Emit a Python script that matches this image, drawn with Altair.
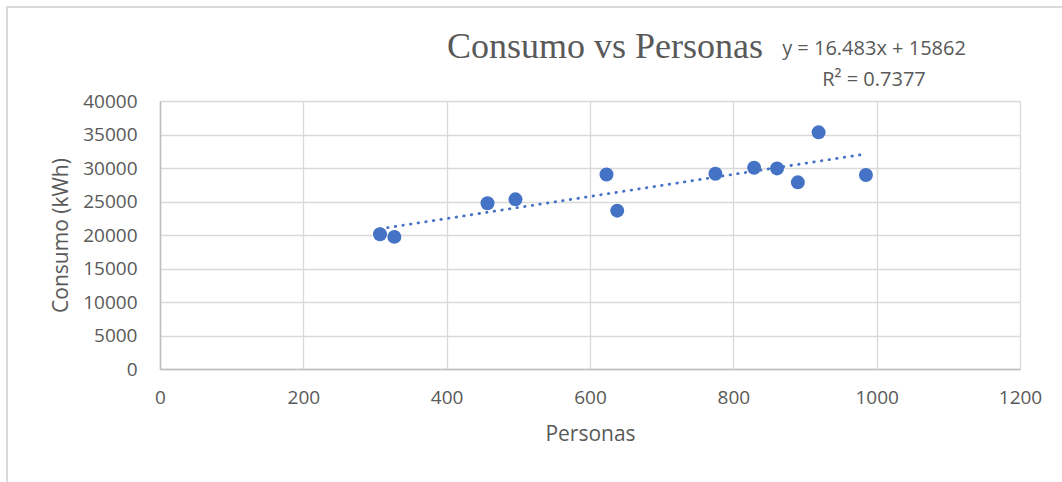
import altair as alt
import pandas as pd

# Number of people served vs. energy consumption (kWh)
personas = [307, 327, 457, 496, 623, 638, 775, 829, 861, 890, 919, 985]
consumo = [20120, 19720, 24730, 25320, 29030, 23630, 29150, 30040, 29940, 27860, 35320, 28950]

# Linear trendline as reported by the fit label
slope = 16.483
intercept = 15862
r2 = 0.7377

x_ticks = [0, 200, 400, 600, 800, 1000, 1200]
y_ticks = [0, 5000, 10000, 15000, 20000, 25000, 30000, 35000, 40000]

pts = pd.DataFrame({"Personas": personas, "Consumo": consumo})
x_min, x_max = min(personas), max(personas)
trend = pd.DataFrame({
    "Personas": [x_min, x_max],
    "Consumo": [slope * x_min + intercept, slope * x_max + intercept],
})

BLUE = "#4472C4"
TEXT = "#595959"
GRID = "#d9d9d9"
FONT = "Open Sans"

x_enc = alt.X(
    "Personas:Q",
    scale=alt.Scale(domain=[0, 1200], nice=False, zero=True),
    axis=alt.Axis(
        values=x_ticks, title="Personas", grid=True, ticks=False, tickSize=0,
        labelPadding=19, titlePadding=16, labelFlush=False, labelOverlap=False,
        format="d",
    ),
)
y_enc = alt.Y(
    "Consumo:Q",
    scale=alt.Scale(domain=[0, 40000], nice=False),
    axis=alt.Axis(
        values=y_ticks, title="Consumo (kWh)", grid=True, ticks=False, tickSize=0,
        labelPadding=23, titlePadding=11, labelFlush=False, labelOverlap=False,
        format="d",
    ),
)

points = alt.Chart(pts).mark_circle(size=195, color=BLUE, opacity=1).encode(x=x_enc, y=y_enc)

line = alt.Chart(trend).mark_line(
    color=BLUE, strokeWidth=2.8, strokeDash=[0.5, 7.2], strokeCap="round"
).encode(x=x_enc, y=y_enc)

title = alt.Chart(pd.DataFrame({"t": ["Consumo vs Personas"]})).mark_text(
    font="Liberation Serif", fontSize=36, color=TEXT, align="left", baseline="alphabetic"
).encode(x=alt.value(287), y=alt.value(-43), text="t:N")

eq_lines = pd.DataFrame({
    "t": [f"y = {slope}x + {intercept}", f"R² = {r2}"],
    "dy": [-46, -15],
})
equation = alt.Chart(eq_lines).mark_text(
    font=FONT, fontSize=20, color=TEXT, align="center", baseline="alphabetic"
).encode(x=alt.value(714), y=alt.Y("dy:Q", scale=None), text="t:N")

# Outer frame lines of the chart area
frame_left = alt.Chart(pd.DataFrame({"k": [0]})).mark_rule(color=GRID, strokeWidth=2).encode(
    x=alt.value(-153), y=alt.value(-94), y2=alt.value(400)
)
frame_top = alt.Chart(pd.DataFrame({"k": [0]})).mark_rule(color=GRID, strokeWidth=2).encode(
    x=alt.value(-154), x2=alt.value(920), y=alt.value(-94)
)

chart = alt.layer(frame_left, frame_top, line, points, title, equation).properties(
    width=860,
    height=268,
    autosize=alt.AutoSizeParams(type="none"),
    padding={"left": 160, "top": 101, "right": 42, "bottom": 113},
    background="white",
).configure_view(stroke=None).configure_axis(
    labelFont=FONT, labelFontSize=19, labelColor=TEXT,
    titleFont=FONT, titleFontSize=21, titleColor=TEXT, titleFontWeight="normal",
    gridColor=GRID, gridWidth=1.3, domainColor="#bfbfbf", domainWidth=1.6,
)

chart.save("out.html", embed_options={"renderer": "svg", "actions": False})
